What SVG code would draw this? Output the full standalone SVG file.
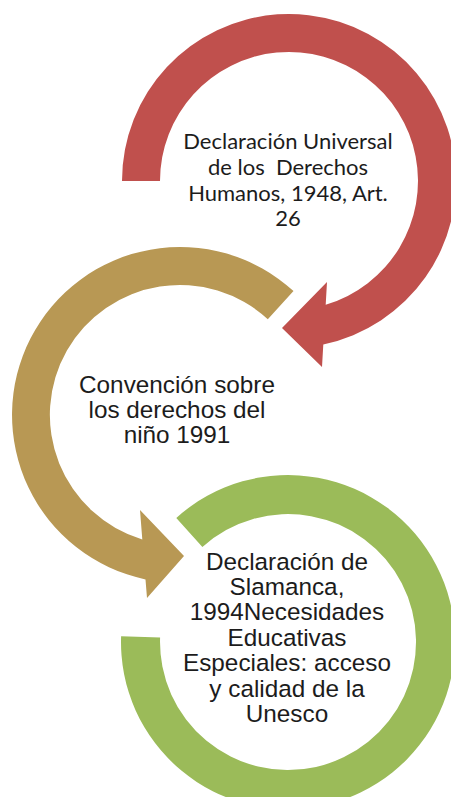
<svg xmlns="http://www.w3.org/2000/svg" width="451" height="797" viewBox="0 0 451 797">
  <style>
    .lbl { fill: #1c1c1c; text-anchor: middle; white-space: pre; }
    .cal { font-family: Lato, "Open Sans", "Noto Sans", sans-serif; font-size: 22px; }
    .ari { font-family: "Liberation Sans", Arial, sans-serif; font-size: 24.3px; }
  </style>
  <rect x="0" y="0" width="451" height="797" fill="#ffffff"/>
  <g id="connectors"/>
  <g id="node-udhr">
    <path fill="#C0504D" d="M 122,181 A 167 167 0 1 1 323.3,344.4 L 322,367 L 282,328 L 327,282 L 325.7,304.7 A 129 129 0 1 0 160,181 Z"/>
    <text class="lbl cal" x="288" y="149">Declaración Universal</text>
    <text class="lbl cal" x="288" y="175">de los  Derechos</text>
    <text class="lbl cal" x="288" y="200.5">Humanos, 1948, Art.</text>
    <text class="lbl cal" x="288" y="226">26</text>
  </g>
  <g id="node-crc">
    <path fill="#B89854" d="M 293.5,291.1 A 168 168 0 1 0 145.5,579.4 L 147,598 L 184,556 L 140,510 L 142.3,539.4 A 130 130 0 1 1 267.8,319.2 Z"/>
    <text class="lbl ari" x="177" y="393">Convención sobre</text>
    <text class="lbl ari" x="177" y="418">los derechos del</text>
    <text class="lbl ari" x="177" y="443">niño 1991</text>
  </g>
  <g id="node-salamanca">
    <path fill="#9BBB59" d="M 176.3,517.9 A 167 167 0 1 1 121.1,636.2 L 160.1,637.5 A 128 128 0 1 0 202.4,546.9 Z"/>
    <text class="lbl ari" x="287" y="570">Declaración de</text>
    <text class="lbl ari" x="287" y="595">Slamanca,</text>
    <text class="lbl ari" x="287" y="620">1994Necesidades</text>
    <text class="lbl ari" x="287" y="646">Educativas</text>
    <text class="lbl ari" x="287" y="671">Especiales: acceso</text>
    <text class="lbl ari" x="287" y="697">y calidad de la</text>
    <text class="lbl ari" x="287" y="722">Unesco</text>
  </g>
</svg>
